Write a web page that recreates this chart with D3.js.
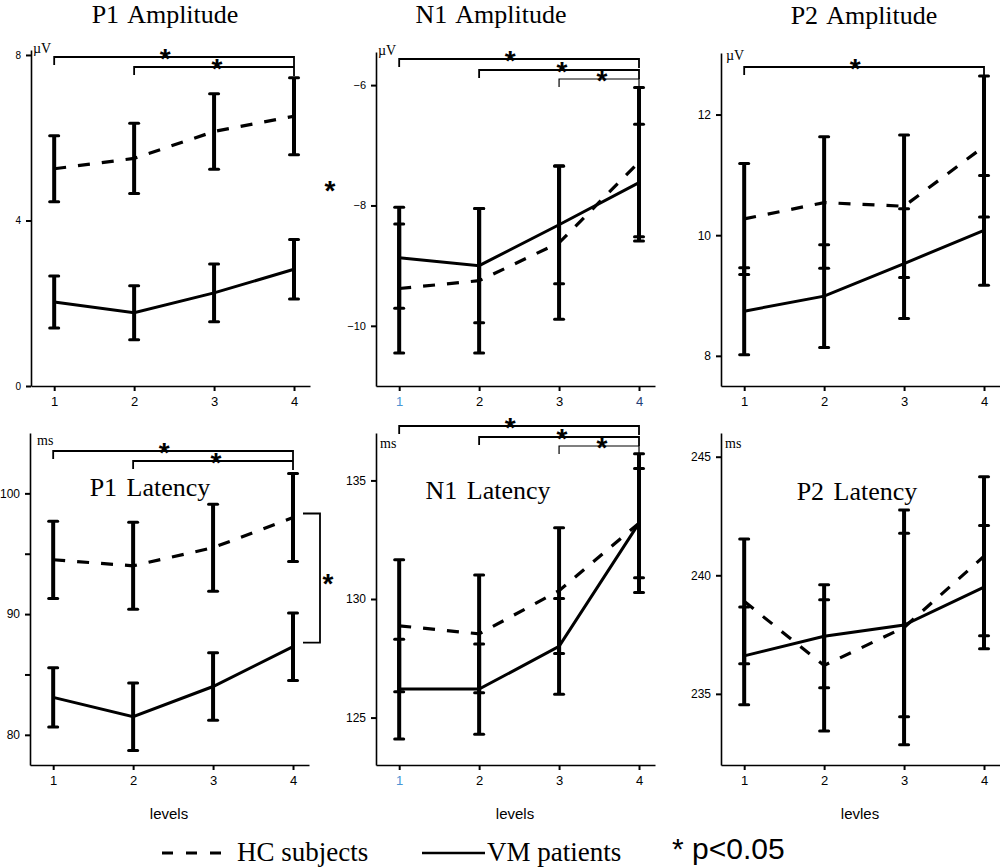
<!DOCTYPE html>
<html>
<head>
<meta charset="utf-8">
<script src="https://cdn.jsdelivr.net/npm/d3@7"></script>
<style>
	body { margin: 0; background: #fff; }
	svg { display: block; }
</style>
</head>
<body>
<div id="chart"></div>
<script>
const levels = [1, 2, 3, 4];

// P1 amplitude (uV)
const p1AmpHC = [5.25, 5.5, 6.15, 6.52];
const p1AmpHCErr = [0.8, 0.85, 0.91, 0.93];
const p1AmpVM = [2.03, 1.77, 2.25, 2.82];
const p1AmpVMErr = [0.63, 0.65, 0.7, 0.72];
const p1AmpTicks = [0, 4, 8];
const p1AmpSig = [[1, 4], [2, 4]];

// N1 amplitude (uV)
const n1AmpHC = [-9.38, -9.25, -8.62, -7.28];
const n1AmpHCErr = [1.07, 1.2, 1.27, 1.24];
const n1AmpVM = [-8.87, -9.0, -8.32, -7.62];
const n1AmpVMErr = [0.84, 0.95, 0.98, 0.97];
const n1AmpTicks = [-10, -8, -6];
const n1AmpSig = [[1, 4], [2, 4], [3, 4]];

// P2 amplitude (uV)
const p2AmpHC = [10.27, 10.54, 10.48, 11.47];
const p2AmpHCErr = [0.92, 1.09, 1.18, 1.17];
const p2AmpVM = [8.74, 8.99, 9.53, 10.08];
const p2AmpVMErr = [0.72, 0.85, 0.91, 0.91];
const p2AmpTicks = [8, 10, 12];
const p2AmpSig = [[1, 4]];

// P1 latency (ms)
const p1LatHC = [94.5, 94.0, 95.5, 98.0];
const p1LatHCErr = [3.2, 3.6, 3.6, 3.65];
const p1LatVM = [83.1, 81.5, 84.0, 87.3];
const p1LatVMErr = [2.45, 2.8, 2.8, 2.8];
const p1LatTicks = [80, 90, 100];
const p1LatMinor = [85, 95];
const p1LatSig = [[1, 4], [2, 4]];

// N1 latency (ms)
const n1LatHC = [128.87, 128.53, 130.35, 133.2];
const n1LatHCErr = [2.78, 2.48, 2.65, 2.93];
const n1LatVM = [126.2, 126.2, 128.0, 133.2];
const n1LatVMErr = [2.1, 1.9, 2.02, 2.3];
const n1LatTicks = [125, 130, 135];
const n1LatSig = [[1, 4], [2, 4], [3, 4]];

// P2 latency (ms)
const p2LatHC = [238.9, 236.2, 237.8, 240.8];
const p2LatHCErr = [2.63, 2.77, 4.95, 3.35];
const p2LatVM = [236.6, 237.43, 237.9, 239.5];
const p2LatVMErr = [2.06, 2.17, 3.87, 2.6];
const p2LatTicks = [235, 240, 245];
const p2LatSig = [];

const legendLabels = ["HC subjects", "VM patients", "* p<0.05"];

const width = 1000,
	height = 867;

const serif = "'Liberation Serif', 'Times New Roman', serif";
const sans = "'Liberation Sans', Arial, sans-serif";

const panels = [
	{
		title: "P1 Amplitude", titleX: 165, titleY: 23,
		x0: 31, yTop: 50, yBottom: 386, domain: [0, 8.12], ticks: p1AmpTicks,
		hc: p1AmpHC, hcErr: p1AmpHCErr, vm: p1AmpVM, vmErr: p1AmpVMErr,
		unit: "\u00b5V", unitX: 33, unitY: 53, yFont: 10,
		sig: p1AmpSig, sigY: [57, 67], sigW: [1.8, 1.8],
	},
	{
		title: "N1 Amplitude", titleX: 491, titleY: 23,
		x0: 376, yTop: 52, yBottom: 386, domain: [-11, -5.45], ticks: n1AmpTicks,
		hc: n1AmpHC, hcErr: n1AmpHCErr, vm: n1AmpVM, vmErr: n1AmpVMErr,
		unit: "\u00b5V", unitX: 378, unitY: 55, yFont: 11,
		sig: n1AmpSig, sigY: [59, 70, 79], sigW: [1.8, 1.8, 1.2],
		xColors: { 1: "#4a94d4", 4: "#1f3f78" },
	},
	{
		title: "P2 Amplitude", titleX: 864, titleY: 24,
		x0: 721, yTop: 53, yBottom: 386, domain: [7.5, 13.02], ticks: p2AmpTicks,
		hc: p2AmpHC, hcErr: p2AmpHCErr, vm: p2AmpVM, vmErr: p2AmpVMErr,
		unit: "\u00b5V", unitX: 726, unitY: 60, yFont: 12,
		sig: p2AmpSig, sigY: [67], sigW: [1.8],
	},
	{
		title: "P1 Latency", titleX: 150, titleY: 496,
		x0: 30, yTop: 433, yBottom: 765, domain: [77.5, 105], ticks: p1LatTicks, minor: p1LatMinor,
		hc: p1LatHC, hcErr: p1LatHCErr, vm: p1LatVM, vmErr: p1LatVMErr,
		unit: "ms", unitX: 37, unitY: 445, yFont: 12,
		sig: p1LatSig, sigY: [451, 461], sigW: [1.8, 1.8],
		xLabel: "levels",
	},
	{
		title: "N1 Latency", titleX: 488, titleY: 499,
		x0: 376, yTop: 433, yBottom: 765, domain: [123, 137], ticks: n1LatTicks,
		hc: n1LatHC, hcErr: n1LatHCErr, vm: n1LatVM, vmErr: n1LatVMErr,
		unit: "ms", unitX: 380, unitY: 448, yFont: 12,
		sig: n1LatSig, sigY: [426, 437, 446], sigW: [1.8, 1.8, 1.2],
		xLabel: "levels",
		xColors: { 1: "#4a94d4" },
	},
	{
		title: "P2 Latency", titleX: 857, titleY: 500,
		x0: 721, yTop: 433, yBottom: 765, domain: [232, 246], ticks: p2LatTicks,
		hc: p2LatHC, hcErr: p2LatHCErr, vm: p2LatVM, vmErr: p2LatVMErr,
		unit: "ms", unitX: 725, unitY: 448, yFont: 12,
		sig: p2LatSig, sigY: [], sigW: [],
		xLabel: "levles",
	},
];

const svg = d3
	.select("#chart")
	.append("svg")
	.attr("width", width)
	.attr("height", height);

const star = (g, cx, cy, size = 28) => {
	// Arial asterisk sits high, so shift the baseline down
	g.append("text")
		.attr("x", cx)
		.attr("y", cy + size * 0.55)
		.attr("text-anchor", "middle")
		.attr("font-family", sans)
		.attr("font-weight", "bold")
		.attr("font-size", size)
		.text("*");
};

const drawErrorBars = (g, x, y, means, errs) => {
	const capW = 4.5;
	means.forEach((m, i) => {
		const cx = x(levels[i]);
		const lo = y(m - errs[i]);
		const hi = y(m + errs[i]);
		g.append("line")
			.attr("x1", cx).attr("x2", cx)
			.attr("y1", lo).attr("y2", hi)
			.attr("stroke", "#000")
			.attr("stroke-width", 4);
		[lo, hi].forEach((cy) => {
			g.append("line")
				.attr("x1", cx - capW).attr("x2", cx + capW)
				.attr("y1", cy).attr("y2", cy)
				.attr("stroke", "#000")
				.attr("stroke-width", 3)
				.attr("stroke-linecap", "round");
		});
	});
};

const drawPanel = (p) => {
	const g = svg.append("g");

	const x = d3.scaleLinear().domain([0.71, 4.2]).range([p.x0, p.x0 + 279]);
	const y = d3.scaleLinear().domain(p.domain).range([p.yBottom, p.yTop]);

	// axes
	const gx = g
		.append("g")
		.attr("transform", `translate(0,${p.yBottom})`)
		.call(
			d3.axisBottom(x)
			.tickValues(levels)
			.tickFormat(d3.format("d"))
			.tickSize(5)
			.tickSizeOuter(0)
			.tickPadding(6)
		);
	gx.selectAll("text")
		.attr("font-family", sans)
		.attr("font-size", 13)
		.attr("fill", (d) => (p.xColors && p.xColors[d]) || "#000");

	const gy = g
		.append("g")
		.attr("transform", `translate(${p.x0},0)`)
		.call(
			d3.axisLeft(y)
			.tickValues(p.ticks)
			.tickFormat(d3.format("d"))
			.tickSize(5)
			.tickSizeOuter(0)
			.tickPadding(5)
		);
	gy.selectAll("text")
		.attr("font-family", sans)
		.attr("font-size", p.yFont)
		.attr("fill", "#000");

	if (p.minor) {
		g.append("g")
			.attr("transform", `translate(${p.x0},0)`)
			.call(
				d3.axisLeft(y)
				.tickValues(p.minor)
				.tickSize(5)
				.tickSizeOuter(0)
				.tickFormat("")
			)
			.select(".domain")
			.remove();
	}

	g.selectAll(".domain").attr("stroke", "#000").attr("stroke-width", 1.6);
	g.selectAll(".tick line").attr("stroke", "#000").attr("stroke-width", 2);

	// unit label
	g.append("text")
		.attr("x", p.unitX)
		.attr("y", p.unitY)
		.attr("font-family", serif)
		.attr("font-size", 14)
		.text(p.unit);

	// title
	g.append("text")
		.attr("x", p.titleX)
		.attr("y", p.titleY)
		.attr("text-anchor", "middle")
		.attr("font-family", serif)
		.attr("font-size", 26)
		.attr("word-spacing", 3)
		.text(p.title);

	if (p.xLabel) {
		g.append("text")
			.attr("x", p.x0 + 139)
			.attr("y", 819)
			.attr("text-anchor", "middle")
			.attr("font-family", sans)
			.attr("font-size", 15)
			.text(p.xLabel);
	}

	// error bars and lines
	drawErrorBars(g, x, y, p.hc, p.hcErr);
	drawErrorBars(g, x, y, p.vm, p.vmErr);

	const line = d3
		.line()
		.x((d, i) => x(levels[i]))
		.y((d) => y(d));

	g.append("path")
		.datum(p.hc)
		.attr("d", line)
		.attr("fill", "none")
		.attr("stroke", "#000")
		.attr("stroke-width", 3.2)
		.attr("stroke-dasharray", "12,12");

	g.append("path")
		.datum(p.vm)
		.attr("d", line)
		.attr("fill", "none")
		.attr("stroke", "#000")
		.attr("stroke-width", 3);

	// significance brackets between levels
	p.sig.forEach(([a, b], k) => {
		const by = p.sigY[k];
		const xa = x(a),
			xb = x(b);
		g.append("path")
			.attr("d", `M${xa},${by + 8}V${by}H${xb}V${by + 9}`)
			.attr("fill", "none")
			.attr("stroke", "#000")
			.attr("stroke-width", p.sigW[k]);
		const sx = (xa + xb) / 2 + (b - a === 3 ? -9 : 3);
		star(g, sx, by - 4);
	});

	return { x, y };
};

const scales = panels.map(drawPanel);

// group difference marks
{
	const s = scales[0];
	const midY = (s.y(p1AmpHC[3]) + s.y(p1AmpVM[3])) / 2 - 8;
	star(svg, 330, midY);
}
{
	const s = scales[3];
	const top = s.y(p1LatHC[3]) - 4,
		bottom = s.y(p1LatVM[3]) - 4;
	svg.append("path")
		.attr("d", `M303,${top}H320V${bottom}H303`)
		.attr("fill", "none")
		.attr("stroke", "#000")
		.attr("stroke-width", 1.8);
	star(svg, 328, (top + bottom) / 2);
}

// legend
const legend = svg.append("g");
legend.append("line")
	.attr("x1", 162).attr("x2", 230)
	.attr("y1", 853).attr("y2", 853)
	.attr("stroke", "#000")
	.attr("stroke-width", 3)
	.attr("stroke-dasharray", "11,13");
legend.append("text")
	.attr("x", 237).attr("y", 861)
	.attr("font-family", serif)
	.attr("font-size", 27)
	.text(legendLabels[0]);
legend.append("line")
	.attr("x1", 422).attr("x2", 485)
	.attr("y1", 853).attr("y2", 853)
	.attr("stroke", "#000")
	.attr("stroke-width", 2.5);
legend.append("text")
	.attr("x", 487).attr("y", 861)
	.attr("font-family", serif)
	.attr("font-size", 27)
	.text(legendLabels[1]);
legend.append("text")
	.attr("x", 672).attr("y", 859)
	.attr("font-family", sans)
	.attr("font-size", 30)
	.text(legendLabels[2]);
</script>
</body>
</html>
